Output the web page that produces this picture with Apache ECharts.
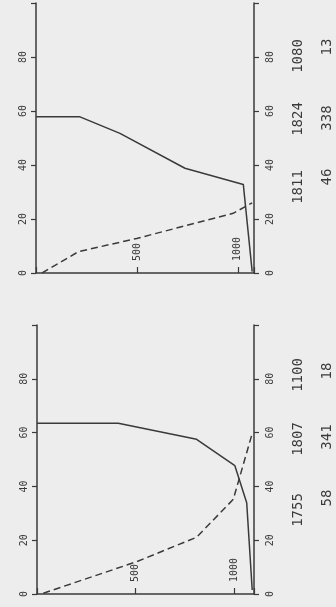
<!DOCTYPE html>
<html>
<head>
    <meta charset="utf-8" />
    <title>chart</title>
    <script src="https://cdn.jsdelivr.net/npm/echarts@6/dist/echarts.min.js"></script>
    <style>
        html, body { margin: 0; padding: 0; background: #ededed; }
        #main { width: 336px; height: 607px; }
    </style>
</head>
<body>
<div id="main"></div>
<script type="text/javascript">
    // top panel
    var topMaxX = 1080;
    var topSolidX = [0, 215, 416, 738, 1027, 1071];
    var topSolidY = [57.9, 57.9, 51.7, 38.8, 32.8, 0.5];
    var topDashX = [30, 210, 499, 977, 1071];
    var topDashY = [0, 7.9, 12.8, 22.1, 26];
    var topCol1 = ['1811', '1824', '1080'];
    var topCol2 = ['46', '338', '13'];

    // bottom panel
    var botMaxX = 1100;
    var botSolidX = [0, 412, 809, 1003, 1063, 1091];
    var botSolidY = [63.5, 63.5, 57.5, 47.7, 33.9, 1.5];
    var botDashX = [32, 505, 809, 995, 1091];
    var botDashY = [0.3, 12, 21.1, 35.2, 59.7];
    var botCol1 = ['1755', '1807', '1100'];
    var botCol2 = ['58', '341', '18'];

    var xTickLabels = [500, 1000];
    var yTickLabels = [0, 20, 40, 60, 80];

    var ink = '#3a3a3a';
    var font = 'DejaVu Sans Mono';

    function zip(xs, ys) {
        var out = [];
        for (var i = 0; i < xs.length; i++) out.push([xs[i], ys[i]]);
        return out;
    }

    function xAxisFor(idx, max) {
        return {
            type: 'value', gridIndex: idx, min: 0, max: max, interval: 500,
            axisLine: { lineStyle: { color: ink, width: 1.5 } },
            axisTick: { inside: true, length: 6, lineStyle: { color: ink, width: 1.2 } },
            splitLine: { show: false },
            axisLabel: {
                inside: true, rotate: 90, margin: 12, color: ink, fontSize: 10, fontFamily: font,
                formatter: function (v) { return xTickLabels.indexOf(v) >= 0 ? String(v) : ''; }
            }
        };
    }

    function yAxisFor(idx, pos) {
        return {
            type: 'value', gridIndex: idx, position: pos, min: 0, max: 100, interval: 20,
            axisLine: { show: true, lineStyle: { color: ink, width: 1.5 } },
            axisTick: { show: true, length: 5, lineStyle: { color: ink, width: 1.2 } },
            splitLine: { show: false },
            axisLabel: {
                rotate: 90, margin: pos == 'left' ? 8 : 11, color: ink, fontSize: 10, fontFamily: font,
                formatter: function (v) { return yTickLabels.indexOf(v) >= 0 ? String(v) : ''; }
            }
        };
    }

    function lineSeries(xi, yi, data, dashed) {
        return {
            type: 'line', xAxisIndex: xi, yAxisIndex: yi, data: data,
            symbol: 'none', silent: true,
            lineStyle: { color: ink, width: 1.5, type: dashed ? [7, 4] : 'solid' }
        };
    }

    function columnTexts(list, x, ys) {
        var out = [];
        for (var i = 0; i < list.length; i++) {
            out.push({
                type: 'text', x: x, y: ys[i], rotation: Math.PI / 2,
                style: { text: list[i], fill: ink, font: '14px "' + font + '"', align: 'center', verticalAlign: 'middle' }
            });
        }
        return out;
    }

    var myChart = echarts.init(document.getElementById('main'));
    myChart.setOption({
        animation: false,
        backgroundColor: '#ededed',
        grid: [
            { left: 36, top: 3, width: 218, height: 270 },
            { left: 37, top: 325, width: 217, height: 269 }
        ],
        xAxis: [xAxisFor(0, topMaxX), xAxisFor(1, botMaxX)],
        yAxis: [yAxisFor(0, 'left'), yAxisFor(0, 'right'), yAxisFor(1, 'left'), yAxisFor(1, 'right')],
        series: [
            lineSeries(0, 0, zip(topSolidX, topSolidY), false),
            lineSeries(0, 0, zip(topDashX, topDashY), true),
            lineSeries(1, 2, zip(botSolidX, botSolidY), false),
            lineSeries(1, 2, zip(botDashX, botDashY), true)
        ],
        graphic: [].concat(
            columnTexts(topCol1, 298, [187, 119, 56]),
            columnTexts(topCol2, 327, [177, 118, 47]),
            columnTexts(botCol1, 298, [510, 439, 375]),
            columnTexts(botCol2, 327, [498, 437, 371])
        )
    });
</script>
</body>
</html>
